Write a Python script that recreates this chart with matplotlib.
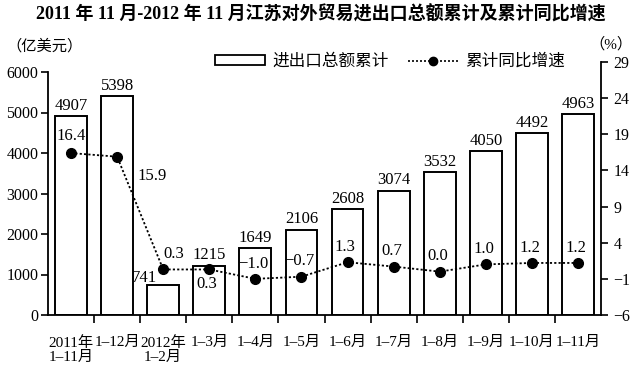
import matplotlib
matplotlib.use("Agg")
import matplotlib.pyplot as plt
from matplotlib.patches import Patch
from matplotlib.lines import Line2D
import numpy as np

FAM = ['Liberation Serif', 'Noto Sans CJK SC']
plt.rcParams['font.family'] = FAM
plt.rcParams['axes.unicode_minus'] = True

categories = ["2011年\n1–11月", "1–12月", "2012年\n1–2月", "1–3月", "1–4月", "1–5月",
              "1–6月", "1–7月", "1–8月", "1–9月", "1–10月", "1–11月"]
totals = [4907, 5398, 741, 1215, 1649, 2106, 2608, 3074, 3532, 4050, 4492, 4963]
growth = [16.4, 15.9, 0.3, 0.3, -1.0, -0.7, 1.3, 0.7, 0.0, 1.0, 1.2, 1.2]
left_ticks = [0, 1000, 2000, 3000, 4000, 5000, 6000]
right_ticks = [-6, -1, 4, 9, 14, 19, 24, 29]

W, H = 641, 366
fig = plt.figure(figsize=(W / 100, H / 100), dpi=100)
x0, x1, yb, yt = 48, 601, 315, 62
ax = fig.add_axes([x0 / W, 1 - yb / H, (x1 - x0) / W, (yb - yt) / H])
ax2 = ax.twinx()

x = np.arange(len(categories))
ax.bar(x, totals, width=0.69, color='white', edgecolor='black', linewidth=1.4, zorder=2)
ax.set_xlim(-0.5, len(categories) - 0.5)
top_left = 6000 * (yb - yt) / (yb - 72)
ax.set_ylim(0, top_left)
ax.set_yticks(left_ticks)
ax.spines['left'].set_bounds(0, 6000)
ax.spines['top'].set_visible(False)
ax.spines['right'].set_visible(False)
for s in ['left', 'bottom']:
    ax.spines[s].set_linewidth(1.3)
ax.tick_params(axis='y', direction='out', length=5, width=1.2, labelsize=11.5, pad=2)
ax.set_xticks(x)
ax.set_xticklabels(categories, fontsize=11, linespacing=1.15)
ax.tick_params(axis='x', length=0, pad=15)
ax.set_xticks(np.arange(len(categories) - 1) + 0.5, minor=True)
ax.tick_params(axis='x', which='minor', direction='out', length=6, width=1.2)

ax2.set_ylim(-6, 29)
ax2.set_yticks(right_ticks)
ax2.set_yticklabels([str(t).replace('-', '−') for t in right_ticks])
for s in ['left', 'top', 'bottom']:
    ax2.spines[s].set_visible(False)
ax2.spines['right'].set_linewidth(1.3)
ax2.tick_params(axis='y', direction='out', length=5, width=1.2, labelsize=11.5, pad=4)
ax2.plot(x, growth, linestyle=(0, (1.2, 1.2)), color='black', linewidth=1.3,
         marker='o', markersize=7, zorder=4)

# bar value labels
for i, v in enumerate(totals):
    if i == 2:
        ax.text(i - 0.13, 920, str(v), ha='right', va='center', fontsize=12)
    else:
        ax.text(i, v + 60, str(v), ha='center', va='bottom', fontsize=12)

def fmt(v):
    return f"{v:.1f}".replace('-', '−')

offsets = {0: (0.0, 1.2, 'center', 'bottom'), 1: (0.45, -1.5, 'left', 'top'),
           2: (0.0, 1.0, 'left', 'bottom'), 3: (-0.05, -0.9, 'center', 'top')}
for i, v in enumerate(growth):
    dx, dy, ha, va = offsets.get(i, (-0.05, 1.0, 'center', 'bottom'))
    ax2.text(i + dx, v + dy, fmt(v), ha=ha, va=va, fontsize=12, zorder=5)

fig.text(0.5, 1 - 14 / H, "2011 年 11 月-2012 年 11 月江苏对外贸易进出口总额累计及累计同比增速",
         ha='center', va='center', fontsize=13, fontweight='bold')
fig.text(6 / W, 1 - 46 / H, "（亿美元）", ha='left', va='center', fontsize=11)
fig.text(632 / W, 1 - 44 / H, "（%）", ha='right', va='center', fontsize=11)

handles = [Patch(facecolor='white', edgecolor='black', linewidth=1.3),
           Line2D([0], [0], linestyle=(0, (1.2, 1.2)), color='black', linewidth=1.2,
                  marker='o', markersize=6)]
fig.legend(handles, ["进出口总额累计", "累计同比增速"], loc='center',
           bbox_to_anchor=(390 / W, 1 - 62 / H), ncol=2, frameon=False, fontsize=12,
           handlelength=3.0, handleheight=0.5, columnspacing=1.2, handletextpad=0.4)

fig.savefig("out.png", dpi=100)
